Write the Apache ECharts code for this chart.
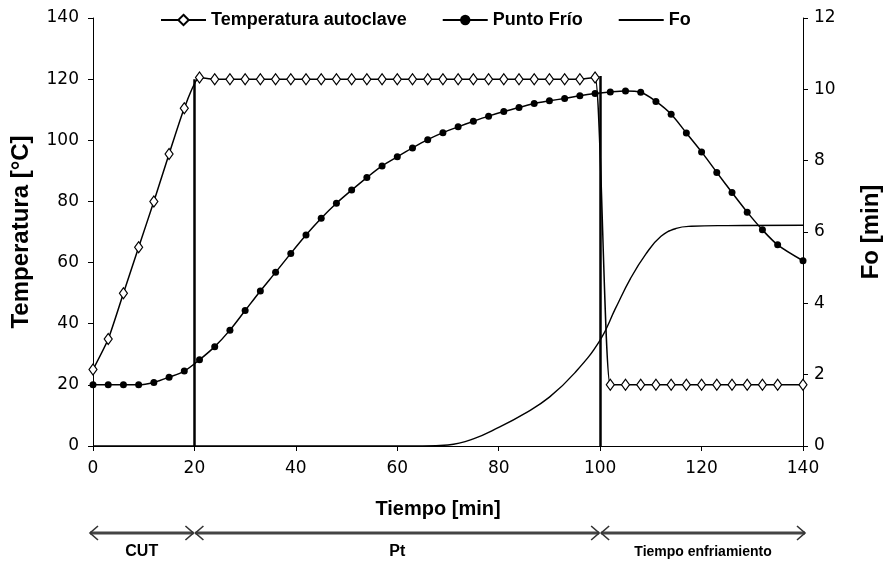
<!DOCTYPE html>
<html>
<head>
<meta charset="utf-8">
<script src="https://cdn.jsdelivr.net/npm/echarts@6/dist/echarts.min.js"></script>
<style>html,body{margin:0;padding:0;background:#fff}#c{width:883px;height:567px}</style>
</head>
<body>
<div id="c"></div>
<script>
// ---- data ----
const autoTime = [0,3,6,9,12,15,18,21,24,27,30,33,36,39,42,45,48,51,54,57,60,63,66,69,72,75,78,81,84,87,90,93,96,99,102,105,108,111,114,117,120,123,126,129,132,135,140];
const autoTemp = [25,35,50,65,80,95.5,110.5,120.5,120,120,120,120,120,120,120,120,120,120,120,120,120,120,120,120,120,120,120,120,120,120,120,120,120,120.5,20,20,20,20,20,20,20,20,20,20,20,20,20];
const frioTime = [0,3,6,9,12,15,18,21,24,27,30,33,36,39,42,45,48,51,54,57,60,63,66,69,72,75,78,81,84,87,90,93,96,99,102,105,108,111,114,117,120,123,126,129,132,135,140];
const frioTemp = [20,20,20,20,20.8,22.5,24.5,28.2,32.5,37.9,44.3,50.7,56.8,63,69,74.5,79.4,83.7,87.8,91.6,94.6,97.5,100.2,102.5,104.4,106.2,107.9,109.4,110.7,112,112.9,113.7,114.6,115.3,115.8,116.1,115.7,112.7,108.5,102.4,96.2,89.5,82.9,76.5,70.7,65.8,60.6];
const foTime = [0,60,65,70,75,80,85,90,95,100,103,106,109,112,115,118,125,140];
const foValue = [0,0,0,0.03,0.2,0.52,0.9,1.37,2.05,2.97,3.85,4.7,5.38,5.88,6.1,6.16,6.18,6.19];
const boundaryTime = [20,100];
const boundaryBottom = [0,0];
const boundaryTop = [120,121];
const phaseNames = ['CUT','Pt','Tiempo enfriamiento'];
const phaseStart = [0,20,100];
const phaseEnd = [20,100,140];
const seriesNames = ['Temperatura autoclave','Punto Frío','Fo'];
const tempTicks = {min:0,max:140,interval:20};
const foTicks = {min:0,max:12,interval:2};
const timeTicks = {min:0,max:140,interval:20};

// ---- styles ----
const phaseFont = ['bold 16px "Liberation Sans"','bold 16px "Liberation Sans"','bold 14px "Liberation Sans"'];
const tickFont = {fontFamily:'DejaVu Sans',fontSize:17,color:'#000'};
const nameFont = {fontFamily:'Liberation Sans',fontWeight:'bold',fontSize:24,color:'#000'};
const axisBase = {
  axisLine:{show:true,lineStyle:{color:'#000',width:1}},
  axisTick:{show:true,inside:false,length:5,lineStyle:{color:'#000'}},
  splitLine:{show:false},
};

const chart = echarts.init(document.getElementById('c'), null, {renderer:'canvas'});
const zip = (a,b)=>a.map((v,i)=>[v,b[i]]);

chart.setOption({
  animation:false,
  backgroundColor:'#fff',
  grid:{left:93,right:80,top:18,bottom:121,outerBoundsMode:'none',containLabel:false},
  legend:{
    data:[{name:seriesNames[0]},{name:seriesNames[1]},{name:seriesNames[2],itemStyle:{opacity:0}}],
    top:6, left:155, itemWidth:45, itemHeight:13, itemGap:35,
    textStyle:{fontFamily:'Liberation Sans',fontWeight:'bold',fontSize:18,color:'#000'}
  },
  xAxis:Object.assign({type:'value',min:timeTicks.min,max:timeTicks.max,interval:timeTicks.interval,
    axisLabel:Object.assign({margin:14},tickFont),
    name:'Tiempo [min]',nameLocation:'middle',nameGap:53,
    nameTextStyle:Object.assign({},nameFont,{fontSize:20,padding:[0,20,0,0]})},axisBase),
  yAxis:[
    Object.assign({type:'value',position:'left',min:tempTicks.min,max:tempTicks.max,interval:tempTicks.interval,
      axisLabel:Object.assign({margin:14},tickFont),
      name:'Temperatura [°C]',nameLocation:'middle',nameGap:60,nameRotate:90,nameTextStyle:nameFont},axisBase),
    Object.assign({type:'value',position:'right',min:foTicks.min,max:foTicks.max,interval:foTicks.interval,
      axisLabel:Object.assign({margin:11},tickFont),
      name:'Fo [min]',nameLocation:'middle',nameGap:56,nameRotate:90,nameTextStyle:nameFont},axisBase)
  ],
  series:[
    {
      name:seriesNames[0], type:'line', yAxisIndex:0, data:zip(autoTime,autoTemp),
      smooth:0.2, symbol:'diamond', symbolSize:[8,11], showAllSymbol:true,
      itemStyle:{color:'#fff',borderColor:'#000',borderWidth:1.2},
      lineStyle:{color:'#000',width:1.5}, z:3,
      markLine:{
        silent:true, symbol:['none','none'], label:{show:false},
        lineStyle:{color:'#000',width:2.5,type:'solid'},
        data:boundaryTime.map((t,i)=>[{coord:[t,boundaryBottom[i]]},{coord:[t,boundaryTop[i]]}])
      }
    },
    {
      name:seriesNames[1], type:'line', yAxisIndex:0, data:zip(frioTime,frioTemp),
      smooth:0.3, symbol:'circle', symbolSize:7, showAllSymbol:true,
      itemStyle:{color:'#000'}, lineStyle:{color:'#000',width:1.5}, z:3
    },
    {
      name:seriesNames[2], type:'line', yAxisIndex:1, data:zip(foTime,foValue),
      smooth:0.45, symbol:'none', showSymbol:false,
      itemStyle:{color:'#000'}, lineStyle:{color:'#000',width:1.4}, z:2
    },
    {
      name:'fases', type:'custom', xAxisIndex:0, yAxisIndex:0, clip:false, silent:true,
      data:phaseNames.map((n,i)=>[phaseStart[i],phaseEnd[i],0]),
      encode:{x:[0,1],y:2},
      renderItem:function(params,api){
        const p1 = api.coord([api.value(0),0]);
        const p2 = api.coord([api.value(1),0]);
        const y = p1[1] + 87;
        const x1 = p1[0] - (params.dataIndex===0 ? 3 : -1);
        const x2 = p2[0] + (params.dataIndex===2 ? 2 : -1);
        const st = {stroke:'#333',lineWidth:1.6,fill:null};
        return {type:'group',children:[
          {type:'line',shape:{x1:x1,y1:y,x2:x2,y2:y},style:{stroke:'#444',lineWidth:3}},
          {type:'polyline',shape:{points:[[x1+8,y-7],[x1,y],[x1+8,y+7]]},style:st},
          {type:'polyline',shape:{points:[[x2-8,y-7],[x2,y],[x2-8,y+7]]},style:st},
          {type:'text',style:{text:phaseNames[params.dataIndex],x:(x1+x2)/2,y:y+19,align:'center',verticalAlign:'middle',font:phaseFont[params.dataIndex],fill:'#000'}}
        ]};
      }
    }
  ]
});
</script>
</body>
</html>
